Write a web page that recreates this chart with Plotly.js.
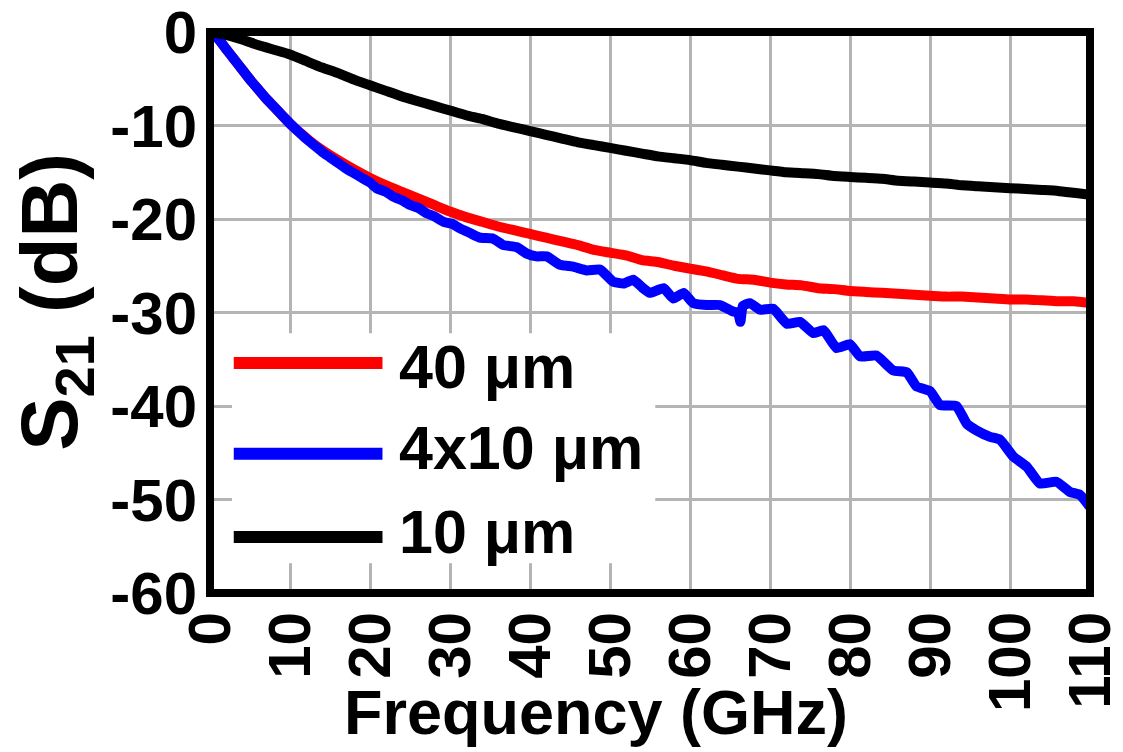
<!DOCTYPE html>
<html>
<head>
<meta charset="utf-8">
<script src="https://cdn.plot.ly/plotly-3.0.1.min.js"></script>
<style>html,body{margin:0;padding:0;background:#fff;}#chart{width:1123px;height:752px;}</style>
</head>
<body>
<div id="chart"></div>
<script>
// ---- data ----
const seriesNames = ["40 μm", "4x10 μm", "10 μm"];
const seriesColors = ["#ff0000", "#0000ff", "#000000"];

const freq40 = [0,1,2,3,4,5,6,7,8,9,10,11,12,13,14,16,18,20,22,24,26,28,30,32,34,36,38,40,42,44,46,48,50,52,54,56,58,60,62,64,66,68,70,72,74,76,78,80,82,84,86,88,90,92,94,96,98,100,102,104,106,108,110];
const s21_40 = [0,-0.7,-1.8,-2.9,-4.0,-5.1,-6.1,-7.1,-8.0,-8.9,-9.8,-10.6,-11.3,-12.0,-12.6,-13.7,-14.7,-15.6,-16.4,-17.1,-17.8,-18.5,-19.2,-19.8,-20.3,-20.8,-21.2,-21.6,-22.0,-22.4,-22.8,-23.3,-23.6,-23.9,-24.4,-24.6,-25.0,-25.3,-25.6,-26.0,-26.4,-26.5,-26.8,-27.0,-27.1,-27.4,-27.5,-27.7,-27.8,-27.9,-28.0,-28.1,-28.2,-28.3,-28.3,-28.4,-28.5,-28.6,-28.6,-28.7,-28.8,-28.8,-29.0];

const freq4x10 = [0,1,2,3,4,5,6,7,8,9,10,11,12,13,14,15,16,17,18,19,20,20.8,22,22.9,24,25,26,27.1,28,29.2,30.2,31.25,32.5,33.75,35.4,36.7,38.3,39.6,40.8,42.1,43.75,45.4,47.1,48.75,50.4,51.7,52.9,54,55,56.7,57.9,59.2,60.4,62.1,63.75,65.4,66.0,66.3,66.6,67.5,68.75,70.4,72.1,73.75,75.4,76.7,78.3,80,81.25,83.3,85.4,87.1,88.3,90,91.25,93.3,94.6,95.8,97.5,98.75,100.4,102.1,103.75,105.8,107.5,108.75,110];
const s21_4x10 = [0,-0.7,-1.8,-2.9,-4.0,-5.1,-6.1,-7.1,-8.0,-8.9,-9.8,-10.6,-11.4,-12.1,-12.8,-13.4,-14.0,-14.6,-15.1,-15.6,-16.1,-16.7,-17.1,-17.6,-18.0,-18.5,-18.8,-19.4,-19.7,-20.3,-20.5,-21.0,-21.5,-22.0,-22.1,-22.8,-23.0,-23.7,-24.0,-24.0,-24.9,-25.1,-25.5,-25.4,-26.7,-26.9,-26.5,-27.3,-27.9,-27.4,-28.5,-27.9,-29.0,-29.2,-29.2,-29.9,-30.0,-31.0,-29.3,-29.0,-29.7,-29.6,-31.2,-31.0,-32.2,-31.9,-33.8,-33.4,-34.7,-34.6,-36.2,-36.4,-37.9,-38.4,-39.9,-40.0,-41.9,-42.6,-43.3,-43.6,-45.4,-46.5,-48.3,-48.1,-49.2,-49.5,-50.8];

const freq10 = [0,2,4,6,8,10,12,14,16,18,20,22,24,26,28,30,32,34,36,38,40,42,44,46,48,50,52,54,56,58,60,62,64,66,68,70,72,74,76,78,80,82,84,86,88,90,92,94,96,98,100,102,104,106,108,110];
const s21_10 = [0,-0.3,-0.8,-1.4,-1.9,-2.4,-3.1,-3.8,-4.4,-5.1,-5.7,-6.3,-6.9,-7.4,-7.9,-8.4,-8.9,-9.3,-9.8,-10.2,-10.6,-11.0,-11.4,-11.8,-12.1,-12.4,-12.7,-13.0,-13.3,-13.5,-13.7,-14.0,-14.2,-14.4,-14.6,-14.8,-15.0,-15.1,-15.2,-15.4,-15.5,-15.6,-15.7,-15.9,-16.0,-16.1,-16.2,-16.4,-16.5,-16.6,-16.7,-16.8,-16.9,-17.0,-17.2,-17.4];

const xTickVals = [0,10,20,30,40,50,60,70,80,90,100,110];
const yTickVals = [0,-10,-20,-30,-40,-50,-60];
const xTitle = "Frequency (GHz)";
const yTitle = "S<sub>21</sub> (dB)";

// ---- chart ----
const FONT = "Arial, 'Liberation Sans', sans-serif";

const xs = [freq40, freq4x10, freq10];
const ys = [s21_40, s21_4x10, s21_10];
const traces = xs.map((x, i) => ({
  x: x, y: ys[i], type: "scatter", mode: "lines", name: seriesNames[i],
  line: {color: seriesColors[i], width: 10, shape: "spline", smoothing: 0.4}, showlegend: false
}));

const legendY = [0.410, 0.248, 0.0998];
const legendTextY = [0.403, 0.258, 0.109];
const shapes = [
  {type: "rect", xref: "paper", yref: "paper", x0: 0.025, x1: 0.506, y0: 0.053, y1: 0.463,
   fillcolor: "#ffffff", line: {width: 0}, layer: "above"}
];
seriesNames.forEach((n, i) => {
  shapes.push({type: "line", xref: "paper", yref: "paper", x0: 0.027, x1: 0.196, y0: legendY[i], y1: legendY[i],
    line: {color: seriesColors[i], width: 12}, layer: "above"});
});
shapes.push({type: "rect", xref: "paper", yref: "paper", x0: 0, x1: 1, y0: 0, y1: 1,
  line: {color: "#000", width: 8}, layer: "above"});

const annotations = seriesNames.map((n, i) => ({
  xref: "paper", yref: "paper", x: 0.2125, y: legendTextY[i], xanchor: "left", yanchor: "middle",
  text: n, showarrow: false, font: {family: FONT, size: 61, color: "#000", weight: 700}
}));
annotations.push({xref: "paper", yref: "paper", x: 0.439, y: -0.212, xanchor: "center", yanchor: "middle",
  text: xTitle, showarrow: false, font: {family: FONT, size: 63, color: "#000", weight: 700}});
annotations.push({xref: "paper", yref: "paper", x: -0.175, y: 0.519, xanchor: "center", yanchor: "middle",
  text: yTitle, textangle: -90, showarrow: false, font: {family: FONT, size: 80, color: "#000", weight: 700}});

const layout = {
  width: 1123, height: 752,
  margin: {l: 210, r: 33, t: 32, b: 159},
  paper_bgcolor: "#fff", plot_bgcolor: "#fff",
  showlegend: false,
  xaxis: {range: [0, 110], tickvals: xTickVals, ticktext: xTickVals.map(String), tickangle: -90,
    showgrid: true, gridcolor: "#b4b4b4", gridwidth: 3, zeroline: false, showline: false,
    ticks: "", ticklabelstandoff: 6, ticklabeloverflow: "allow",
    tickfont: {family: FONT, size: 60, color: "#000", weight: 700}},
  yaxis: {range: [-60, 0], tickvals: yTickVals, ticktext: yTickVals.map(String),
    showgrid: true, gridcolor: "#b4b4b4", gridwidth: 3, zeroline: false, showline: false,
    ticks: "", ticklabelstandoff: 12, ticklabeloverflow: "allow",
    tickfont: {family: FONT, size: 60, color: "#000", weight: 700}},
  shapes: shapes,
  annotations: annotations
};

Plotly.newPlot("chart", traces, layout, {displayModeBar: false, staticPlot: true});
</script>
</body>
</html>
